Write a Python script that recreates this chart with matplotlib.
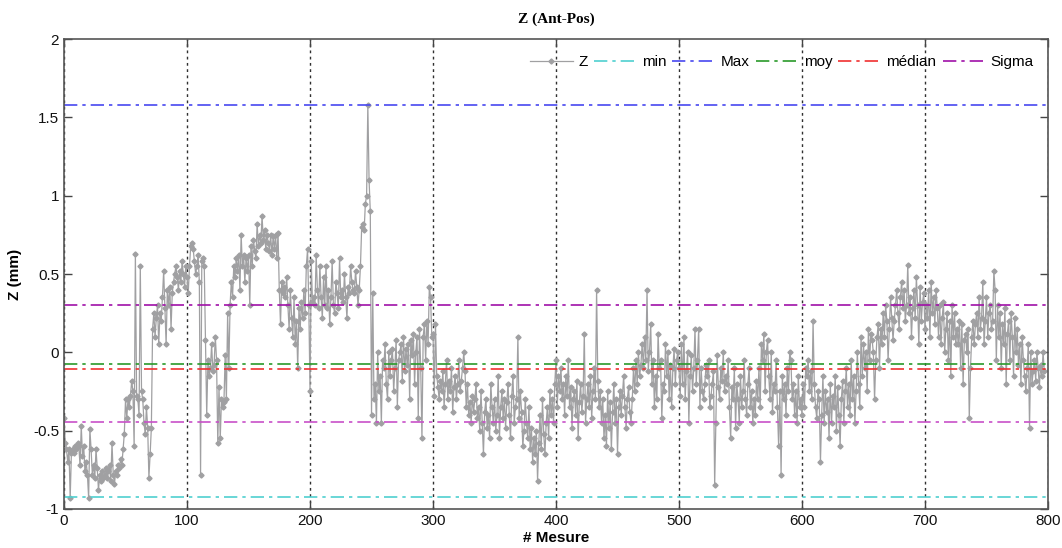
import numpy as np
import matplotlib
matplotlib.use("Agg")
import matplotlib.pyplot as plt

# valeurs Z (mm), une par mesure
z_vals = [
    -0.42, -0.58, -0.62, -0.70, -0.62, -0.93, -0.64, -0.62, -0.64, -0.60, -0.62, -0.58, -0.60, -0.72, -0.47, -0.66, -0.60, -0.76, -0.70, -0.78,
    -0.93, -0.49, -0.62, -0.78, -0.72, -0.80, -0.62, -0.74, -0.88, -0.78, -0.82, -0.76, -0.80, -0.78, -0.74, -0.80, -0.76, -0.72, -0.82, -0.58,
    -0.78, -0.84, -0.76, -0.78, -0.72, -0.74, -0.68, -0.72, -0.62, -0.52, -0.30, -0.42, -0.30, -0.35, -0.28, -0.18, -0.25, -0.60, 0.63, -0.28,
    -0.30, -0.40, 0.55, -0.25, -0.30, -0.45, -0.52, -0.35, -0.48, -0.80, -0.65, -0.48, 0.15, 0.25, 0.10, 0.22, 0.30, 0.05, 0.25, 0.20,
    0.35, 0.52, 0.28, 0.05, 0.40, 0.30, 0.42, 0.15, 0.38, 0.45, 0.50, 0.55, 0.48, 0.40, 0.52, 0.45, 0.58, 0.50, 0.42, 0.55,
    0.48, 0.38, 0.55, 0.68, 0.70, 0.66, 0.58, 0.50, 0.55, 0.62, 0.45, -0.78, 0.58, 0.60, 0.55, 0.08, -0.40, -0.05, -0.15, -0.10,
    0.05, -0.12, -0.08, 0.10, -0.05, -0.58, -0.22, -0.55, -0.30, -0.35, -0.32, -0.02, -0.30, 0.25, -0.10, 0.30, 0.45, 0.35, 0.55, 0.48,
    0.60, 0.52, 0.62, 0.40, 0.75, 0.55, 0.62, 0.45, 0.60, 0.52, 0.62, 0.30, 0.68, 0.55, 0.72, 0.65, 0.60, 0.82, 0.68, 0.75,
    0.70, 0.87, 0.72, 0.78, 0.66, 0.75, 0.70, 0.65, 0.75, 0.62, 0.74, 0.66, 0.75, 0.60, 0.76, 0.40, 0.18, 0.45, 0.38, 0.42,
    0.35, 0.48, 0.30, 0.15, 0.40, 0.22, 0.10, 0.35, 0.05, 0.20, -0.10, 0.28, 0.15, 0.32, 0.22, 0.40, 0.25, 0.55, 0.66, 0.30,
    -0.25, 0.58, 0.32, 0.35, 0.30, 0.62, 0.40, 0.28, 0.55, 0.35, 0.22, 0.48, 0.30, 0.55, 0.28, 0.40, 0.18, 0.35, 0.58, 0.30,
    0.25, 0.45, 0.38, 0.28, 0.60, 0.35, 0.40, 0.32, 0.50, 0.35, 0.22, 0.42, 0.38, 0.55, 0.45, 0.40, 0.38, 0.52, 0.42, 0.30,
    0.40, 0.55, 0.80, 0.82, 0.78, 0.95, 1.00, 1.58, 1.10, 0.90, -0.40, 0.38, -0.30, -0.20, -0.45, 0.00, -0.25, -0.15, -0.45, -0.05,
    -0.10, 0.05, -0.20, -0.30, 0.00, -0.15, -0.05, 0.02, -0.25, -0.10, 0.08, -0.35, -0.05, 0.00, 0.05, -0.18, 0.10, -0.12, 0.02, -0.08,
    0.05, -0.30, 0.08, -0.02, 0.12, -0.20, 0.00, 0.10, -0.42, 0.15, -0.10, -0.55, 0.10, 0.18, -0.05, 0.20, 0.05, 0.42, 0.35, 0.10,
    0.12, -0.28, 0.18, -0.15, -0.22, -0.30, -0.18, -0.25, -0.12, -0.35, -0.20, -0.05, -0.30, -0.18, -0.25, -0.10, -0.38, -0.22, -0.15, -0.30,
    -0.20, -0.05, -0.25, -0.18, -0.10, 0.00, -0.12, -0.35, -0.20, -0.40, -0.32, -0.45, -0.28, -0.38, -0.30, -0.20, -0.42, -0.35, -0.50, -0.25,
    -0.45, -0.65, -0.38, -0.30, -0.48, -0.40, -0.55, -0.20, -0.35, -0.45, -0.30, -0.50, -0.40, -0.15, -0.55, -0.35, -0.25, -0.42, -0.30, -0.48,
    -0.32, -0.20, -0.40, -0.55, -0.28, -0.15, -0.45, -0.35, -0.30, 0.10, -0.42, -0.25, -0.38, -0.60, -0.50, -0.30, -0.45, -0.55, -0.35, -0.62,
    -0.48, -0.70, -0.55, -0.65, -0.50, -0.82, -0.58, -0.40, -0.62, -0.30, -0.52, -0.65, -0.45, -0.35, -0.55, -0.25, -0.40, -0.30, -0.45, -0.20,
    -0.05, -0.35, -0.15, -0.25, -0.10, -0.30, -0.20, -0.40, -0.15, -0.28, -0.05, -0.35, -0.22, -0.48, -0.30, -0.25, -0.40, -0.18, -0.55, -0.32,
    -0.20, -0.38, -0.28, 0.12, -0.45, -0.30, -0.20, -0.35, -0.15, -0.42, -0.25, -0.10, -0.30, 0.40, -0.18, -0.35, -0.25, -0.45, -0.30, -0.55,
    -0.40, -0.60, -0.25, -0.48, -0.32, -0.62, -0.38, -0.20, -0.45, -0.30, -0.65, -0.35, -0.25, -0.40, -0.28, -0.15, -0.35, -0.48, -0.30, -0.22,
    -0.38, -0.45, -0.30, -0.10, -0.25, -0.05, -0.20, 0.00, -0.15, -0.08, 0.05, -0.10, 0.10, -0.05, 0.40, -0.12, 0.00, 0.18, -0.20, -0.05,
    -0.35, -0.15, -0.30, 0.12, -0.10, -0.05, -0.42, -0.20, -0.25, 0.05, -0.15, 0.00, -0.30, -0.08, -0.35, -0.10, 0.02, -0.20, -0.05, 0.00,
    -0.10, -0.28, 0.05, -0.20, 0.10, -0.30, -0.12, 0.00, -0.45, -0.15, -0.02, -0.25, -0.10, 0.15, -0.20, -0.05, 0.15, -0.35, -0.10, -0.25,
    -0.30, -0.20, -0.08, -0.15, -0.05, -0.35, -0.28, -0.20, -0.12, -0.85, -0.45, -0.02, -0.22, -0.30, -0.10, -0.18, 0.00, -0.25, -0.15, -0.20,
    -0.05, -0.35, -0.55, -0.22, -0.30, -0.10, -0.48, -0.20, -0.30, -0.45, -0.15, -0.35, -0.25, -0.05, -0.30, -0.40, -0.20, -0.10, -0.35, -0.25,
    -0.45, -0.30, -0.40, -0.18, -0.30, -0.10, -0.35, 0.05, -0.05, 0.12, -0.25, 0.00, 0.08, -0.15, -0.30, 0.00, -0.38, -0.20, -0.25, -0.05,
    -0.35, -0.60, -0.25, -0.78, -0.15, -0.30, -0.20, -0.40, -0.10, -0.25, 0.00, -0.05, -0.30, -0.20, -0.40, -0.25, -0.45, -0.15, -0.35, -0.30,
    -0.40, -0.20, -0.35, -0.10, -0.15, -0.05, -0.25, -0.12, -0.30, 0.20, -0.20, -0.35, -0.42, -0.25, -0.30, -0.70, -0.40, -0.15, -0.45, -0.25,
    -0.38, -0.30, -0.55, -0.20, -0.45, -0.28, -0.35, -0.15, -0.50, -0.22, -0.40, -0.60, -0.30, -0.18, -0.45, -0.25, -0.10, -0.35, -0.20, -0.40,
    -0.05, -0.30, -0.15, -0.45, -0.25, 0.00, -0.20, -0.35, 0.10, -0.15, 0.05, -0.10, 0.00, -0.25, 0.15, -0.05, 0.12, 0.08, 0.00, -0.30,
    -0.05, 0.10, 0.18, -0.10, 0.15, 0.05, 0.25, 0.10, 0.30, 0.20, -0.05, 0.15, 0.35, 0.22, 0.08, 0.20, 0.30, 0.40, 0.25, 0.15,
    0.35, 0.45, 0.28, 0.40, 0.20, 0.30, 0.56, 0.25, 0.35, 0.10, 0.28, 0.40, 0.22, 0.48, 0.30, 0.05, 0.42, 0.20, 0.32, 0.38,
    0.15, 0.30, 0.22, 0.40, 0.10, 0.45, 0.25, 0.35, 0.18, 0.40, 0.28, 0.10, 0.30, 0.05, 0.22, 0.32, 0.00, 0.15, 0.25, -0.05,
    0.20, -0.15, 0.30, 0.10, 0.25, 0.05, 0.15, 0.05, 0.20, -0.10, 0.18, -0.20, 0.08, 0.12, 0.00, 0.15, -0.42, -0.10, 0.10, 0.20,
    0.05, 0.18, 0.25, 0.10, 0.35, 0.15, 0.22, 0.45, 0.05, 0.20, 0.35, 0.10, 0.25, 0.30, 0.15, 0.20, 0.52, 0.40, -0.05, 0.30,
    0.10, 0.25, -0.10, 0.18, 0.05, 0.28, -0.20, 0.12, 0.20, -0.05, 0.25, 0.10, -0.15, 0.22, 0.00, 0.15, -0.08, 0.05, -0.20, 0.10,
    -0.05, -0.15, -0.25, -0.10, 0.05, -0.48, 0.00, -0.20, -0.12, -0.05, -0.18, 0.00, -0.10, -0.22, -0.08, -0.15, 0.00, -0.12,
]

# statistiques (lignes horizontales)
z_min = -0.925
z_max = 1.577
z_moy = -0.077
z_median = -0.108
sigma_haut = 0.30
sigma_bas = -0.447

x = np.arange(len(z_vals))

plt.rcParams['font.family'] = ['Liberation Sans', 'DejaVu Sans']

fig = plt.figure(figsize=(10.62, 5.48), dpi=100)
ax = fig.add_axes([0.0603, 0.0712, 0.9265, 0.8576])

ax.plot(x, z_vals, color='#a0a0a2', lw=0.9, marker='D', ms=2.6, mec='#a0a0a2', mfc='#a0a0a2', label='Z')

dash = (0, (8, 3, 2, 3))
ax.axhline(z_min, color='#4fcfcf', lw=1.2, ls=dash, label='min')
ax.axhline(z_max, color='#4848f0', lw=1.2, ls=dash, label='Max')
ax.axhline(z_moy, color='#2a9a2a', lw=1.2, ls=dash, label='moy')
ax.axhline(z_median, color='#f03030', lw=1.2, ls=dash, label='médian')
ax.axhline(sigma_haut, color='#a010a8', lw=1.2, ls=dash, label='Sigma')
ax.axhline(sigma_bas, color='#c850c8', lw=1.2, ls=dash)

ax.set_xlim(0, 800)
ax.set_ylim(-1, 2)
ax.set_xticks(np.arange(0, 801, 100))
ax.set_yticks([-1, -0.5, 0, 0.5, 1, 1.5, 2])
ax.set_yticklabels(['-1', '-0.5', '0', '0.5', '1', '1.5', '2'])
ax.xaxis.grid(True, color='#303030', ls=(0, (2, 2.5)), lw=1.0)
ax.tick_params(direction='in', length=6, width=1, colors='#444444', labelcolor='#111111',
               labelsize=11, top=True, right=True)
for s in ax.spines.values():
    s.set_color('#555555')
    s.set_linewidth(1.2)

ax.set_xlabel('# Mesure', fontsize=11, fontweight='bold', labelpad=2)
ax.set_ylabel('Z (mm)', fontsize=11, fontweight='bold', labelpad=8)
ax.set_title('Z (Ant-Pos)', fontsize=11, fontweight='bold', family='Liberation Serif', pad=12)

ax.legend(loc='upper right', ncol=6, frameon=False, fontsize=11, handlelength=2.8,
          handletextpad=0.35, columnspacing=0.4, bbox_to_anchor=(0.995, 0.985),
          borderaxespad=0.2)

fig.savefig('out.png', dpi=100)
